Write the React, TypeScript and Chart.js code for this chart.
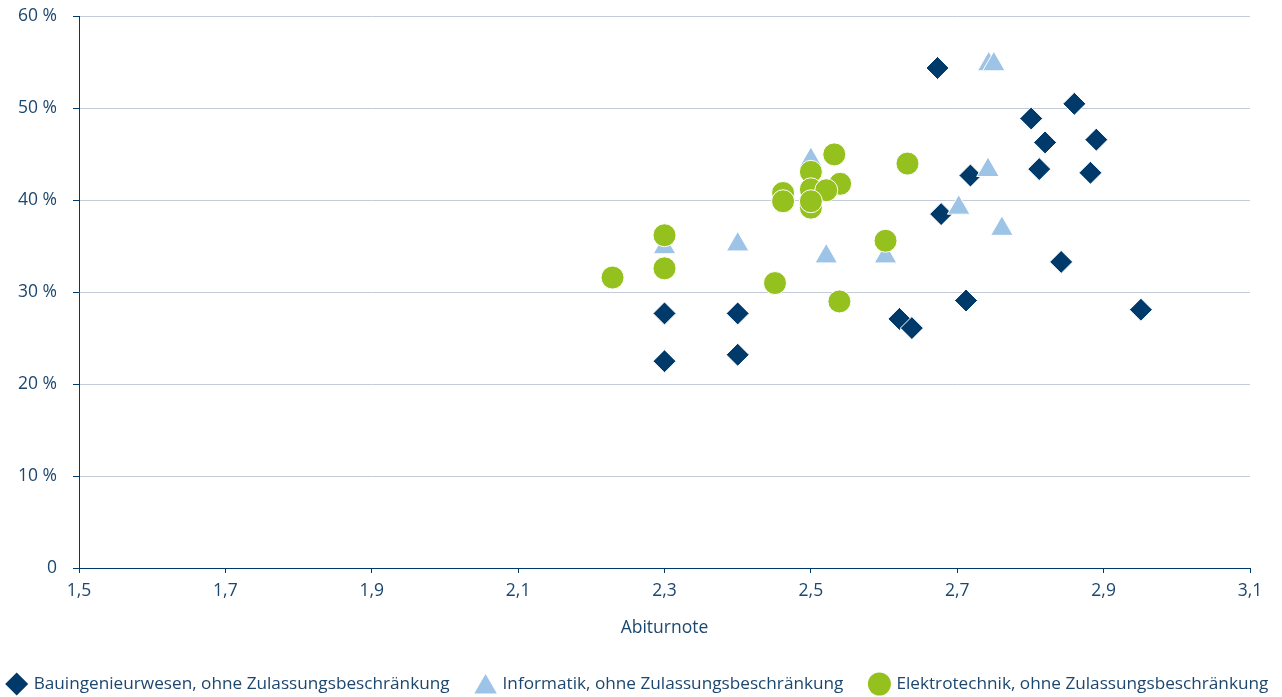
import React, { useEffect, useRef } from "react";
import { Chart, registerables } from "chart.js";
import { drawPoint } from "chart.js/helpers";

Chart.register(...registerables);

const seriesNames = [
  "Bauingenieurwesen, ohne Zulassungsbeschränkung",
  "Informatik, ohne Zulassungsbeschränkung",
  "Elektrotechnik, ohne Zulassungsbeschränkung",
];

const bauX = [2.673, 2.86, 2.801, 2.82, 2.89, 2.718, 2.812, 2.882, 2.678, 2.842, 2.712, 2.951, 2.621, 2.638, 2.3, 2.4, 2.3, 2.4];
const bauY = [54.4, 50.5, 48.9, 46.3, 46.6, 42.7, 43.4, 43.0, 38.5, 33.3, 29.1, 28.1, 27.1, 26.1, 27.7, 27.7, 22.5, 23.2];

const infoX = [2.743, 2.75, 2.742, 2.702, 2.761, 2.602, 2.521, 2.5, 2.4, 2.3];
const infoY = [54.8, 54.8, 43.3, 39.2, 36.9, 33.9, 33.9, 44.4, 35.2, 34.9];

const elekX = [2.532, 2.5, 2.54, 2.462, 2.462, 2.5, 2.521, 2.5, 2.5, 2.3, 2.3, 2.229, 2.451, 2.539, 2.602, 2.632];
const elekY = [45.0, 43.1, 41.8, 40.8, 39.9, 41.2, 41.1, 39.2, 39.9, 36.2, 32.6, 31.6, 31.0, 29.0, 35.6, 44.0];

const xTicks = [1.5, 1.7, 1.9, 2.1, 2.3, 2.5, 2.7, 2.9, 3.1];
const yTicks = [0, 10, 20, 30, 40, 50, 60];

const NAVY = "#003a6b";
const LIGHT = "#9dc3e6";
const GREEN = "#95c11f";
const TEXT = "#1c476f";
const GRID = "#c3cbd9";
const FONT = "'Open Sans', 'Noto Sans', sans-serif";
const FS = 17.5;
const LEGEND_FS = 17.2;

const toPts = (xs: number[], ys: number[]) => xs.map((x, i) => ({ x, y: ys[i] }));

// Bottom legend drawn with Chart.js point helpers, in one centred row
const bottomLegend = {
  id: "bottomLegend",
  afterDraw(chart: any) {
    const ctx = chart.ctx;
    ctx.save();
    ctx.font = `${LEGEND_FS}px ${FONT}`;
    ctx.textBaseline = "middle";
    ctx.textAlign = "left";
    const items = chart.data.datasets.map((ds: any) => ({
      text: ds.label,
      style: ds.pointStyle,
      color: ds.backgroundColor,
      radius: ds.pointRadius,
      w: ctx.measureText(ds.label).width,
    }));
    const markerHalf = 12;
    const toText = 17;
    const gap = 24;
    const total =
      items.reduce((s: number, it: any) => s + markerHalf + toText + it.w, 0) + gap * (items.length - 1);
    let x = chart.width / 2 - 4.5 - total / 2;
    const y = 684;
    items.forEach((it: any) => {
      const cx = x + markerHalf;
      ctx.fillStyle = it.color;
      drawPoint(ctx, { pointStyle: it.style, radius: it.radius, rotation: 0, borderWidth: 0 }, cx, it.style === "triangle" ? y + 3 : y);
      ctx.fillStyle = TEXT;
      ctx.fillText(it.text, cx + toText, y);
      x = cx + toText + it.w + gap;
    });
    ctx.restore();
  },
};

export default function App() {
  const ref = useRef<HTMLCanvasElement | null>(null);
  useEffect(() => {
    if (!ref.current) return;
    const chart = new Chart(ref.current, {
      type: "scatter",
      data: {
        datasets: [
          {
            label: seriesNames[0],
            data: toPts(bauX, bauY),
            pointStyle: "rectRot",
            pointRadius: 11.5,
            backgroundColor: NAVY,
            borderColor: "#ffffff",
            borderWidth: 1,
            order: 3,
          },
          {
            label: seriesNames[1],
            data: toPts(infoX, infoY),
            pointStyle: "triangle",
            pointRadius: 13,
            backgroundColor: LIGHT,
            borderColor: "#ffffff",
            borderWidth: 1,
            order: 2,
          },
          {
            label: seriesNames[2],
            data: toPts(elekX, elekY),
            pointStyle: "circle",
            pointRadius: 11.5,
            backgroundColor: GREEN,
            borderColor: "#ffffff",
            borderWidth: 1,
            order: 1,
          },
        ],
      },
      options: {
        responsive: false,
        animation: false,
        layout: { padding: { top: 16.5, right: 32, left: 0, bottom: 51.5 } },
        plugins: {
          tooltip: { enabled: false },
          legend: { display: false },
        },
        scales: {
          x: {
            type: "linear",
            min: 1.5,
            max: 3.1,
            afterBuildTicks: (scale: any) => {
              scale.ticks = xTicks.map((v) => ({ value: v }));
            },
            afterFit: (scale: any) => {
              scale.height = 77.5;
            },
            ticks: {
              color: TEXT,
              font: { family: FONT, size: FS },
              padding: 8,
              maxRotation: 0,
              callback: (v: any) => Number(v).toFixed(1).replace(".", ","),
            },
            grid: {
              drawOnChartArea: false,
              tickLength: 5,
              tickColor: NAVY,
            },
            border: { color: NAVY, width: 1 },
            title: {
              display: true,
              text: "Abiturnote",
              color: TEXT,
              font: { family: FONT, size: FS },
              padding: { top: 8, bottom: 6.5 },
            },
          },
          y: {
            type: "linear",
            min: 0,
            max: 60,
            afterBuildTicks: (scale: any) => {
              scale.ticks = yTicks.map((v) => ({ value: v }));
            },
            afterFit: (scale: any) => {
              scale.width = 79;
              scale.paddingTop = 0;
              scale.paddingBottom = 0;
            },
            ticks: {
              color: TEXT,
              font: { family: FONT, size: FS },
              padding: 16,
              callback: (v: any) => (Number(v) === 0 ? "0" : `${v} %`),
            },
            grid: {
              color: GRID,
              lineWidth: 1,
              tickLength: 6,
              tickColor: NAVY,
            },
            border: { color: NAVY, width: 1 },
          },
        },
      },
      plugins: [bottomLegend],
    });
    return () => chart.destroy();
  }, []);
  return (
    <div style={{ position: "absolute", left: 0, top: 0, width: 1282, height: 697, background: "#fff" }}>
      <canvas ref={ref} width={1282} height={697} style={{ display: "block" }} />
    </div>
  );
}
